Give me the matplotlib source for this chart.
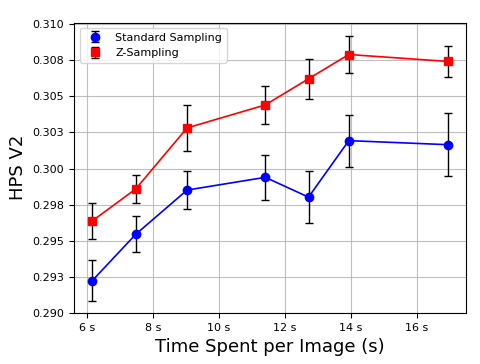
import matplotlib
matplotlib.use("Agg")
import matplotlib.pyplot as plt
from matplotlib.ticker import FuncFormatter, MultipleLocator
from decimal import Decimal, ROUND_HALF_UP

times = [6.17, 7.48, 9.04, 11.41, 12.72, 13.94, 16.94]
std_mean = [0.29225, 0.29544, 0.29851, 0.29939, 0.29802, 0.30193, 0.30165]
std_err = [0.0014, 0.00125, 0.0013, 0.00154, 0.0018, 0.0018, 0.0022]
z_mean = [0.29638, 0.29858, 0.30281, 0.30440, 0.30621, 0.30789, 0.30741]
z_err = [0.00125, 0.001, 0.0016, 0.0013, 0.0014, 0.0013, 0.0011]


def yfmt(v, p):
    d = Decimal(str(round(v, 6))).quantize(Decimal('0.001'), rounding=ROUND_HALF_UP)
    return f"{d}"


fig = plt.figure(figsize=(4.81, 3.64), dpi=100)
ax = fig.add_axes([0.154, 0.140, 0.814, 0.798])

ax.plot(times, std_mean, '-', color='blue', linewidth=1.2)
ax.plot(times, z_mean, '-', color='red', linewidth=1.2)
ax.errorbar(times, std_mean, yerr=std_err, fmt='o', color='blue', ecolor='black',
            capsize=3, markersize=6, elinewidth=1, label='Standard Sampling')
ax.errorbar(times, z_mean, yerr=z_err, fmt='s', color='red', ecolor='black',
            capsize=3, markersize=6, elinewidth=1, label='Z-Sampling')

ax.set_xlim(5.615, 17.48)
ax.set_ylim(0.290, 0.3101)
ax.xaxis.set_major_locator(MultipleLocator(2))
ax.yaxis.set_major_locator(MultipleLocator(0.0025))
ax.xaxis.set_major_formatter(FuncFormatter(lambda v, p: f"{int(round(v))} s"))
ax.yaxis.set_major_formatter(FuncFormatter(yfmt))
ax.tick_params(labelsize=8)
ax.grid(True, color='#b0b0b0', linewidth=0.8, alpha=0.8)

ax.set_xlabel('Time Spent per Image (s)', fontsize=13)
ax.set_ylabel('HPS V2', fontsize=13)
ax.legend(loc='upper left', fontsize=8)

fig.savefig('out.png', dpi=100)
